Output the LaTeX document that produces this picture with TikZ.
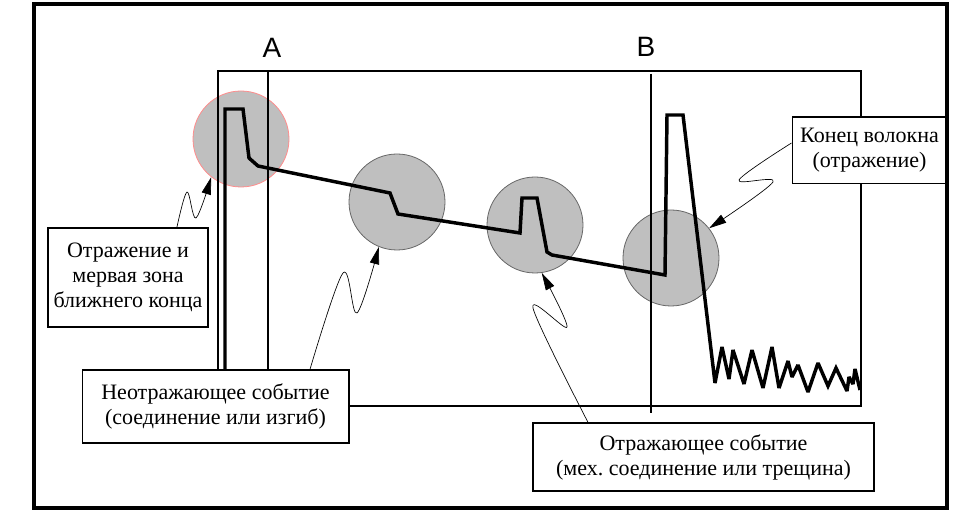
\documentclass[tikz,border=0pt]{standalone}
\usepackage{fontspec}
\setmainfont{Liberation Serif}
\newfontfamily\labelfont{Liberation Sans}
\usetikzlibrary{arrows.meta,calc}

\tikzset{
	event/.style={circle,draw=black!60,fill=black!25,line width=0.6pt,minimum size=72pt,inner sep=0pt},
	note/.style={draw,fill=white,line width=1pt,align=center,inner sep=0pt,font=\fontsize{16.5}{18.75}\selectfont},
	callout/.style={line width=0.5pt,-{Triangle[length=13pt,width=7pt]}},
	trace/.style={line width=2.6pt,line join=miter,miter limit=2.5},
}

\begin{document}
\begin{tikzpicture}[x=0.75pt,y=0.75pt]
				%%%%% START %%%%%
				\def\xa{268}
				\def\xb{651}
				\def\ctop{446}
				\def\cbot{111}
				\useasboundingbox (0,0) rectangle (967,517);
				
				% events
				\node[event,draw=red!45] (ev1) at (241,378) {};
				\node[event] (ev2) at (397,315) {};
				\node[event] (ev3) at (535,292) {};
				\node[event] (ev4) at (671,259) {};
				
				% chart
				\draw[line width=0.8pt] (218,\cbot) rectangle (861,\ctop);
				\draw[line width=0.8pt] (\xa,\ctop) -- (\xa,140);
				\draw[line width=0.8pt] (\xb,443) -- (\xb,104);
				\node[font=\labelfont\fontsize{21}{21}\selectfont] (lblA) at (272,469) {A};
				\node[font=\labelfont\fontsize{21}{21}\selectfont] (lblB) at (646,470) {B};
				
				% trace
				\draw[trace] (225,127) -- (225,408) -- (243,408) -- (249,359) -- (258,351)
					-- (390,324) -- (398,303) -- (520,284) -- (522,319) -- (537,319)
					-- (547,265) -- (552,262) -- (665,242) -- (667,402) -- (683,402)
					-- (715,134) -- (722,170) -- (729,138) -- (733,167) -- (744,133)
					-- (752,167) -- (763,129) -- (772,170) -- (779,129) -- (788,156)
					-- (792,140) -- (798,152) -- (808,125) -- (818,154) -- (828,131)
					-- (836,149) -- (847,126) -- (849,140) -- (853,133) -- (855,148)
					-- (860,127);
				
				% notes
				\node[note,line width=1.9pt,minimum width=120pt,minimum height=74pt] (lbnear) at (128,239.5)
					{Отражение и\\мервая зона\\ближнего конца};
				\node[note,minimum width=200pt,minimum height=54.75pt] (lbnonrefl) at (215.5,110.5)
					{Неотражающее событие\\(соединение или изгиб)};
				\node[note,minimum width=116pt,minimum height=50pt] (lbend) at (869.5,366.5)
					{Конец волокна\\(отражение)};
				\node[note,minimum width=255.75pt,minimum height=51pt] (lbrefl) at (703.5,60)
					{Отражающее событие\\(мех.\ соединение или трещина)};
				
				% callouts
				\coordinate (w1a) at (187,325);
				\coordinate (w1b) at (196,299);
				\coordinate (w2a) at (343,244);
				\coordinate (w2b) at (357,204);
				\coordinate (w3a) at (533,209);
				\coordinate (w3b) at (567,190);
				\coordinate (w4a) at (739,337);
				\coordinate (w4b) at (773,335);
				\draw[callout] plot[smooth,tension=0.55] coordinates {($(lbnear.north)+(49,0)$) (w1a) (w1b) (ev1.232)};
				\draw[callout] plot[smooth,tension=0.55] coordinates {($(lbnonrefl.north)+(94.5,0)$) (w2a) (w2b) (ev2.248)};
				\draw[callout] plot[smooth,tension=0.55] coordinates {($(lbrefl.north)+(-115.5,0)$) (w3a) (w3b) (ev3.278)};
				\draw[callout] plot[smooth,tension=0.55] coordinates {($(lbend.west)+(0,7.5)$) (w4a) (w4b) (ev4.38)};
				
				% frame
				\draw[line width=2.6pt] (34,9) rectangle (947,513);
				%%%%% END %%%%%
\end{tikzpicture}
\end{document}
